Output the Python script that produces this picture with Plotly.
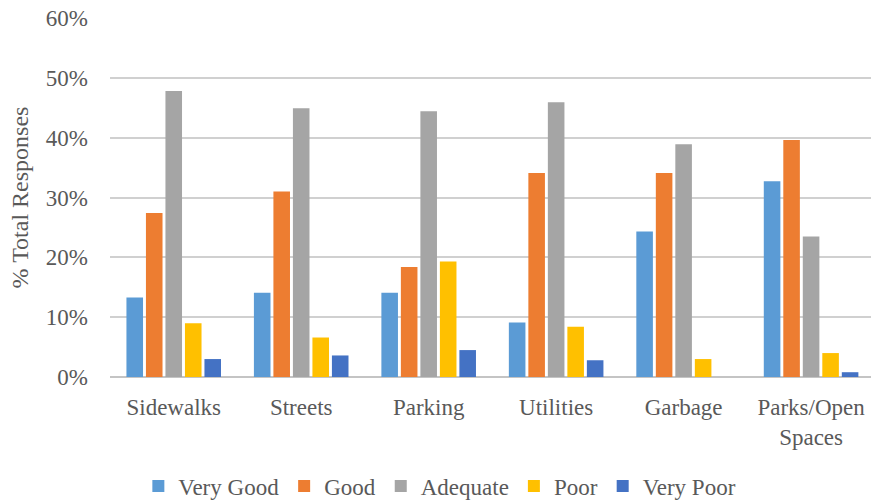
import plotly.graph_objects as go

categories = ["Sidewalks", "Streets", "Parking", "Utilities", "Garbage", "Parks/Open<br>Spaces"]
very_good = [13.3, 14.1, 14.1, 9.1, 24.3, 32.7]
good = [27.4, 31.0, 18.4, 34.1, 34.1, 39.6]
adequate = [47.8, 44.9, 44.4, 45.9, 38.9, 23.5]
poor = [9.0, 6.6, 19.3, 8.4, 3.0, 4.0]
very_poor = [3.0, 3.6, 4.5, 2.8, 0.0, 0.8]

series = [
    ("Very Good", very_good, "#5B9BD5"),
    ("Good", good, "#ED7D31"),
    ("Adequate", adequate, "#A5A5A5"),
    ("Poor", poor, "#FFC000"),
    ("Very Poor", very_poor, "#4472C4"),
]

FONT = "Liberation Serif"
TXT = "#595959"

fig = go.Figure()
for name, vals, color in series:
    fig.add_trace(go.Bar(
        name=name, x=list(range(len(categories))), y=vals,
        marker=dict(color=color, line=dict(width=0)),
    ))

fig.update_layout(
    width=871, height=500,
    margin=dict(l=110, r=0, t=18, b=123),
    paper_bgcolor="white", plot_bgcolor="white",
    barmode="group", bargap=0.235, bargroupgap=0.15,
    font=dict(family=FONT, color=TXT, size=18),
    showlegend=True,
    legend=dict(
        orientation="h", xref="container", yref="container",
        x=0.505, xanchor="center", y=0.028, yanchor="middle",
        font=dict(family=FONT, size=23, color=TXT),
        itemwidth=30, tracegroupgap=0, itemclick=False,
    ),
)

fig.update_xaxes(
    tickmode="array", tickvals=list(range(len(categories))), ticktext=categories,
    range=[-0.5, 5.47], showgrid=False, showline=False, zeroline=False,
    ticks="", ticklabelstandoff=14,
    tickfont=dict(family=FONT, size=23, color=TXT),
)
fig.update_yaxes(
    range=[0, 60], dtick=10, ticksuffix="%",
    showgrid=True, gridcolor="#D0D0D0", gridwidth=1.5,
    zeroline=True, zerolinecolor="#C4C4C4", zerolinewidth=2,
    showline=False, ticks="", ticklabelstandoff=21,
    tickfont=dict(family=FONT, size=23, color=TXT),
    title=dict(text="% Total Responses", standoff=10,
               font=dict(family=FONT, size=24, color=TXT)),
)

fig.write_html("out.html")
